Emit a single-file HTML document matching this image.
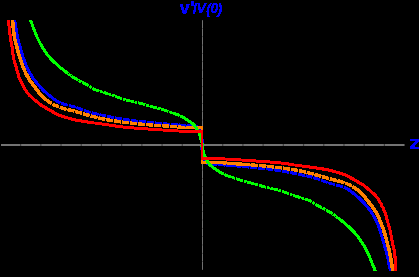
<!DOCTYPE html>
<html><head><meta charset="utf-8"><style>
html,body{margin:0;padding:0;background:#000;}
body{width:419px;height:277px;overflow:hidden;position:relative;font-family:"Liberation Sans",sans-serif;}
svg{position:absolute;left:0;top:0;}
</style></head><body>
<svg width="419" height="277" viewBox="0 0 419 277">
<defs>
<filter id="th2" filterUnits="userSpaceOnUse" x="0" y="0" width="419" height="277" color-interpolation-filters="sRGB"><feComponentTransfer><feFuncA type="discrete" tableValues="0 1 1 1 1 1 1 1 1 1 1 1 1 1 1 1 1 1 1 1 1 1 1 1 1"/></feComponentTransfer></filter>
<filter id="th" filterUnits="userSpaceOnUse" x="0" y="0" width="419" height="277" color-interpolation-filters="sRGB"><feComponentTransfer><feFuncA type="discrete" tableValues="0 1 1 1 1"/></feComponentTransfer></filter>
<clipPath id="cp"><rect x="0" y="20" width="419" height="251"/></clipPath>
</defs>
<rect width="419" height="277" fill="#000"/>
<g shape-rendering="crispEdges">
<rect x="0.6" y="144" width="404.2" height="2" fill="#737373"/>
<rect x="202" y="20" width="1" height="250.3" fill="#707070"/>
<rect x="-0.20" y="140" width="1.2" height="6" fill="#000" opacity="0.45" shape-rendering="auto"/><rect x="20.01" y="140" width="1.2" height="6" fill="#000" opacity="0.45" shape-rendering="auto"/><rect x="40.22" y="140" width="1.2" height="6" fill="#000" opacity="0.45" shape-rendering="auto"/><rect x="60.43" y="140" width="1.2" height="6" fill="#000" opacity="0.45" shape-rendering="auto"/><rect x="80.64" y="140" width="1.2" height="6" fill="#000" opacity="0.45" shape-rendering="auto"/><rect x="100.85" y="140" width="1.2" height="6" fill="#000" opacity="0.45" shape-rendering="auto"/><rect x="121.06" y="140" width="1.2" height="6" fill="#000" opacity="0.45" shape-rendering="auto"/><rect x="141.27" y="140" width="1.2" height="6" fill="#000" opacity="0.45" shape-rendering="auto"/><rect x="161.48" y="140" width="1.2" height="6" fill="#000" opacity="0.45" shape-rendering="auto"/><rect x="181.69" y="140" width="1.2" height="6" fill="#000" opacity="0.45" shape-rendering="auto"/><rect x="222.11" y="140" width="1.2" height="6" fill="#000" opacity="0.45" shape-rendering="auto"/><rect x="242.32" y="140" width="1.2" height="6" fill="#000" opacity="0.45" shape-rendering="auto"/><rect x="262.53" y="140" width="1.2" height="6" fill="#000" opacity="0.45" shape-rendering="auto"/><rect x="282.74" y="140" width="1.2" height="6" fill="#000" opacity="0.45" shape-rendering="auto"/><rect x="302.95" y="140" width="1.2" height="6" fill="#000" opacity="0.45" shape-rendering="auto"/><rect x="323.16" y="140" width="1.2" height="6" fill="#000" opacity="0.45" shape-rendering="auto"/><rect x="343.37" y="140" width="1.2" height="6" fill="#000" opacity="0.45" shape-rendering="auto"/><rect x="363.58" y="140" width="1.2" height="6" fill="#000" opacity="0.45" shape-rendering="auto"/><rect x="383.79" y="140" width="1.2" height="6" fill="#000" opacity="0.45" shape-rendering="auto"/><rect x="404.00" y="140" width="1.2" height="6" fill="#000" opacity="0.45" shape-rendering="auto"/>
<rect x="202" y="19.70" width="6" height="0.7" fill="#000" opacity="0.45" shape-rendering="auto"/><rect x="202" y="28.03" width="6" height="0.7" fill="#000" opacity="0.45" shape-rendering="auto"/><rect x="202" y="36.36" width="6" height="0.7" fill="#000" opacity="0.45" shape-rendering="auto"/><rect x="202" y="44.69" width="6" height="0.7" fill="#000" opacity="0.45" shape-rendering="auto"/><rect x="202" y="53.02" width="6" height="0.7" fill="#000" opacity="0.45" shape-rendering="auto"/><rect x="202" y="61.35" width="6" height="0.7" fill="#000" opacity="0.45" shape-rendering="auto"/><rect x="202" y="69.68" width="6" height="0.7" fill="#000" opacity="0.45" shape-rendering="auto"/><rect x="202" y="78.01" width="6" height="0.7" fill="#000" opacity="0.45" shape-rendering="auto"/><rect x="202" y="86.34" width="6" height="0.7" fill="#000" opacity="0.45" shape-rendering="auto"/><rect x="202" y="94.67" width="6" height="0.7" fill="#000" opacity="0.45" shape-rendering="auto"/><rect x="202" y="103.00" width="6" height="0.7" fill="#000" opacity="0.45" shape-rendering="auto"/><rect x="202" y="111.33" width="6" height="0.7" fill="#000" opacity="0.45" shape-rendering="auto"/><rect x="202" y="119.66" width="6" height="0.7" fill="#000" opacity="0.45" shape-rendering="auto"/><rect x="202" y="127.99" width="6" height="0.7" fill="#000" opacity="0.45" shape-rendering="auto"/><rect x="202" y="136.32" width="6" height="0.7" fill="#000" opacity="0.45" shape-rendering="auto"/><rect x="202" y="152.98" width="6" height="0.7" fill="#000" opacity="0.45" shape-rendering="auto"/><rect x="202" y="161.31" width="6" height="0.7" fill="#000" opacity="0.45" shape-rendering="auto"/><rect x="202" y="169.64" width="6" height="0.7" fill="#000" opacity="0.45" shape-rendering="auto"/><rect x="202" y="177.97" width="6" height="0.7" fill="#000" opacity="0.45" shape-rendering="auto"/><rect x="202" y="186.30" width="6" height="0.7" fill="#000" opacity="0.45" shape-rendering="auto"/><rect x="202" y="194.63" width="6" height="0.7" fill="#000" opacity="0.45" shape-rendering="auto"/><rect x="202" y="202.96" width="6" height="0.7" fill="#000" opacity="0.45" shape-rendering="auto"/><rect x="202" y="211.29" width="6" height="0.7" fill="#000" opacity="0.45" shape-rendering="auto"/><rect x="202" y="219.62" width="6" height="0.7" fill="#000" opacity="0.45" shape-rendering="auto"/><rect x="202" y="227.95" width="6" height="0.7" fill="#000" opacity="0.45" shape-rendering="auto"/><rect x="202" y="236.28" width="6" height="0.7" fill="#000" opacity="0.45" shape-rendering="auto"/><rect x="202" y="244.61" width="6" height="0.7" fill="#000" opacity="0.45" shape-rendering="auto"/><rect x="202" y="252.94" width="6" height="0.7" fill="#000" opacity="0.45" shape-rendering="auto"/><rect x="202" y="261.27" width="6" height="0.7" fill="#000" opacity="0.45" shape-rendering="auto"/><rect x="202" y="269.60" width="6" height="0.7" fill="#000" opacity="0.45" shape-rendering="auto"/>
</g>
<g fill="none" stroke-linejoin="round" clip-path="url(#cp)">
<g stroke="#0000ff" stroke-width="2.1" filter="url(#th2)"><path d="M14.2,18.0 L14.4,18.9 L14.5,19.7 L14.7,20.6 L14.8,21.4 L15.0,22.3 L15.1,23.1 L15.3,24.0 L15.4,24.8 L15.6,25.7 L15.7,26.6 L15.8,27.4 L16.0,28.3 L16.1,29.1 L16.3,30.0 L16.4,30.9 L16.6,31.7 L16.7,32.6 L16.9,33.4 L17.0,34.3 L17.2,35.1 L17.4,36.0 L17.5,36.8 L17.7,37.7 L17.9,38.5 L18.1,39.4 L18.3,40.2 L18.5,41.0 L18.8,41.9 L19.0,42.7 L19.2,43.5 L19.5,44.4 L19.7,45.2 L19.9,46.1 L20.2,46.9 L20.4,47.7 L20.7,48.6 L20.9,49.4 L21.1,50.2 L21.3,51.1 L21.6,51.9 L21.8,52.7 L22.1,53.6 L22.3,54.4 L22.5,55.3 L22.8,56.1 L23.0,56.9 L23.3,57.7 L23.6,58.6 L23.9,59.4 L24.2,60.2 L24.4,61.0 L24.7,61.8 L25.1,62.7 L25.4,63.5 L25.7,64.3 L26.0,65.1 L26.4,65.9 L26.7,66.7 L27.1,67.5 L27.4,68.2 L27.8,69.0 L28.2,69.8 L28.6,70.6 L29.0,71.3 L29.4,72.1 L29.8,72.9 L30.3,73.6 L30.7,74.4 L31.2,75.1 L31.6,75.9 L32.1,76.6 L32.5,77.3 L33.0,78.0 L33.5,78.8 L34.0,79.5 L34.5,80.2 L35.0,80.9 L35.6,81.5 L36.1,82.2 L36.7,82.9 L37.2,83.6 L37.8,84.2 L38.4,84.9 L38.9,85.5 L39.5,86.2 L40.1,86.8 L40.7,87.5 L41.3,88.1 L41.9,88.7 L42.5,89.3 L43.1,90.0 L43.8,90.6 L44.4,91.2 L45.0,91.8 L45.7,92.3 L46.3,92.9 L47.0,93.5 L47.6,94.0 L48.3,94.6 L49.0,95.1 L49.6,95.7 L50.3,96.3 L51.0,96.8 L51.7,97.4 L52.4,97.9 L53.1,98.5 L53.8,99.0 L54.5,99.5 M196.8,126.8 L197.6,127.2 L198.3,127.7 L199.0,128.2 L199.6,128.9 L200.0,129.6 L200.3,130.4 L200.6,131.2 L200.8,132.0 L201.0,132.9 L201.2,133.8 L201.4,134.6 L201.5,135.5 L201.7,136.4 L201.8,137.2 L201.9,138.1 L202.0,138.9 L202.1,139.8 L202.2,140.6 L202.3,141.5 L202.4,142.4 L202.4,143.3 L202.5,144.1 L202.5,145.0 M390.6,272.0 L390.4,271.1 L390.3,270.3 L390.1,269.4 L389.9,268.6 L389.7,267.7 L389.5,266.9 L389.4,266.0 L389.2,265.2 L389.0,264.3 L388.8,263.4 L388.7,262.6 L388.5,261.7 L388.3,260.9 L388.1,260.0 L388.0,259.1 L387.8,258.3 L387.6,257.4 L387.4,256.6 L387.2,255.7 L387.0,254.9 L386.8,254.0 L386.6,253.2 L386.4,252.3 L386.2,251.5 L386.0,250.6 L385.7,249.8 L385.5,249.0 L385.3,248.1 L385.0,247.3 L384.8,246.5 L384.5,245.6 L384.3,244.8 L384.0,243.9 L383.8,243.1 L383.5,242.3 L383.3,241.4 L383.0,240.6 L382.8,239.8 L382.6,238.9 L382.3,238.1 L382.1,237.3 L381.8,236.4 L381.6,235.6 L381.3,234.7 L381.0,233.9 L380.8,233.1 L380.5,232.3 L380.2,231.4 L380.0,230.6 L379.7,229.8 L379.5,229.0 L379.2,228.2 L378.9,227.3 L378.7,226.5 L378.4,225.7 L378.1,224.9 L377.7,224.1 L377.4,223.3 L377.0,222.5 L376.7,221.8 L376.3,221.0 L375.9,220.2 L375.5,219.4 L375.1,218.7 L374.7,217.9 L374.3,217.1 L373.8,216.4 L373.4,215.6 L372.9,214.9 L372.5,214.1 L372.0,213.4 L371.6,212.7 L371.1,212.0 L370.6,211.2 L370.1,210.5 L369.6,209.8 L369.1,209.1 L368.5,208.5 L368.0,207.8 L367.4,207.1 L366.9,206.4 L366.3,205.8 L365.7,205.1 L365.2,204.5 L364.6,203.8 L364.0,203.2 L363.4,202.5 L362.8,201.9 L362.2,201.3 L361.6,200.7 L361.0,200.0 L360.3,199.4 L359.7,198.8 L359.1,198.2 L358.4,197.7 L357.8,197.1 L357.1,196.5 L356.5,196.0 L355.8,195.4 L355.1,194.9 L354.5,194.3 L353.8,193.7 L353.1,193.2 L352.4,192.6 L351.7,192.1 L351.0,191.5 L350.3,191.0 L349.6,190.5 M207.3,163.2 L206.5,162.8 L205.8,162.3 L205.1,161.8 L204.5,161.1 L204.1,160.4 L203.8,159.6 L203.5,158.8 L203.3,158.0 L203.1,157.1 L202.9,156.2 L202.7,155.4 L202.6,154.5 L202.4,153.6 L202.3,152.8 L202.2,151.9 L202.1,151.1 L202.0,150.2 L201.9,149.4 L201.8,148.5 L201.7,147.6 L201.7,146.7 L201.6,145.9 L201.6,145.0"/><path d="M54.5,99.5 L55.2,100.0 L56.0,100.5 L56.7,101.0 L57.4,101.4 L58.2,101.8 L58.9,102.2 L59.7,102.6 L60.5,102.9 L61.3,103.2 L62.0,103.5 L62.9,103.7 L63.7,104.0 L64.5,104.2 L65.3,104.5 L66.2,104.7 L67.0,104.9 L67.9,105.1 L68.7,105.3 L69.6,105.5 L70.5,105.8 L71.3,106.0 L72.2,106.2 L73.0,106.4 L73.9,106.7 L74.7,106.9 L75.5,107.2 L76.3,107.4 L77.2,107.7 L78.0,108.0 L78.8,108.3 L79.6,108.6 L80.4,108.9 L81.3,109.2 L82.1,109.5 L82.9,109.8 L83.7,110.1 L84.5,110.4 L85.3,110.7 L86.2,111.0 L87.0,111.3 L87.8,111.5 L88.6,111.8 L89.5,112.0 L90.3,112.3 L91.1,112.5 L92.0,112.7 L92.8,112.9 L93.6,113.2 L94.5,113.4 L95.3,113.6 L96.2,113.8 L97.0,114.0 L97.9,114.2 L98.7,114.4 L99.6,114.5 L100.4,114.7 L101.3,114.9 L102.1,115.1 L103.0,115.3 L103.8,115.5 L104.7,115.6 L105.5,115.8 L106.4,116.0 L107.2,116.2 L108.1,116.4 L108.9,116.5 L109.8,116.7 L110.6,116.9 L111.5,117.1 L112.3,117.2 L113.2,117.4 L114.0,117.6 L114.9,117.8 L115.7,117.9 L116.6,118.1 L117.4,118.2 L118.3,118.4 L119.1,118.5 L120.0,118.7 L120.8,118.8 L121.7,119.0 L122.6,119.1 L123.4,119.3 L124.3,119.4 L125.1,119.5 L126.0,119.6 L126.8,119.8 L127.7,119.9 L128.6,120.0 L129.4,120.1 L130.3,120.2 L131.1,120.3 L132.0,120.4 L132.9,120.5 L133.7,120.7 L134.6,120.8 L135.5,120.9 L136.3,121.0 L137.2,121.1 L138.0,121.2 L138.9,121.3 L139.8,121.4 L140.6,121.4 L141.5,121.5 L142.4,121.6 L143.2,121.7 L144.1,121.8 L145.0,121.9 L145.8,122.0 L146.7,122.1 L147.5,122.2 L148.4,122.3 L149.3,122.3 L150.1,122.4 L151.0,122.5 L151.9,122.6 L152.7,122.7 L153.6,122.8 L154.5,122.8 L155.3,122.9 L156.2,123.0 L157.1,123.1 L157.9,123.2 L158.8,123.3 L159.6,123.3 L160.5,123.4 L161.4,123.5 L162.2,123.6 L163.1,123.6 L164.0,123.7 L164.8,123.8 L165.7,123.8 L166.6,123.9 L167.4,124.0 L168.3,124.1 L169.2,124.1 L170.0,124.2 L170.9,124.3 L171.8,124.3 L172.6,124.4 L173.5,124.5 L174.4,124.5 L175.2,124.6 L176.1,124.7 L177.0,124.7 L177.8,124.8 L178.7,124.9 L179.6,124.9 L180.4,125.0 L181.3,125.1 L182.1,125.1 L183.0,125.2 L183.9,125.3 L184.7,125.3 L185.6,125.4 L186.5,125.5 L187.3,125.6 L188.2,125.6 L189.1,125.7 L189.9,125.8 L190.8,125.9 L191.7,125.9 L192.6,126.0 L193.4,126.1 L194.3,126.2 L195.1,126.3 L196.0,126.5 L196.8,126.8 M349.6,190.5 L348.9,190.0 L348.1,189.5 L347.4,189.0 L346.7,188.6 L345.9,188.2 L345.2,187.8 L344.4,187.4 L343.6,187.1 L342.8,186.8 L342.1,186.5 L341.2,186.3 L340.4,186.0 L339.6,185.8 L338.8,185.5 L337.9,185.3 L337.1,185.1 L336.2,184.9 L335.4,184.7 L334.5,184.5 L333.6,184.2 L332.8,184.0 L331.9,183.8 L331.1,183.6 L330.2,183.3 L329.4,183.1 L328.6,182.8 L327.8,182.6 L326.9,182.3 L326.1,182.0 L325.3,181.7 L324.5,181.4 L323.7,181.1 L322.8,180.8 L322.0,180.5 L321.2,180.2 L320.4,179.9 L319.6,179.6 L318.8,179.3 L317.9,179.0 L317.1,178.7 L316.3,178.5 L315.5,178.2 L314.6,178.0 L313.8,177.7 L313.0,177.5 L312.1,177.3 L311.3,177.1 L310.5,176.8 L309.6,176.6 L308.8,176.4 L307.9,176.2 L307.1,176.0 L306.2,175.8 L305.4,175.6 L304.5,175.5 L303.7,175.3 L302.8,175.1 L302.0,174.9 L301.1,174.7 L300.3,174.5 L299.4,174.4 L298.6,174.2 L297.7,174.0 L296.9,173.8 L296.0,173.6 L295.2,173.5 L294.3,173.3 L293.5,173.1 L292.6,172.9 L291.8,172.8 L290.9,172.6 L290.1,172.4 L289.2,172.2 L288.4,172.1 L287.5,171.9 L286.7,171.8 L285.8,171.6 L285.0,171.5 L284.1,171.3 L283.3,171.2 L282.4,171.0 L281.5,170.9 L280.7,170.7 L279.8,170.6 L279.0,170.5 L278.1,170.4 L277.3,170.2 L276.4,170.1 L275.5,170.0 L274.7,169.9 L273.8,169.8 L273.0,169.7 L272.1,169.6 L271.2,169.5 L270.4,169.3 L269.5,169.2 L268.6,169.1 L267.8,169.0 L266.9,168.9 L266.1,168.8 L265.2,168.7 L264.3,168.6 L263.5,168.6 L262.6,168.5 L261.7,168.4 L260.9,168.3 L260.0,168.2 L259.1,168.1 L258.3,168.0 L257.4,167.9 L256.6,167.8 L255.7,167.7 L254.8,167.7 L254.0,167.6 L253.1,167.5 L252.2,167.4 L251.4,167.3 L250.5,167.2 L249.6,167.2 L248.8,167.1 L247.9,167.0 L247.0,166.9 L246.2,166.8 L245.3,166.7 L244.5,166.7 L243.6,166.6 L242.7,166.5 L241.9,166.4 L241.0,166.4 L240.1,166.3 L239.3,166.2 L238.4,166.2 L237.5,166.1 L236.7,166.0 L235.8,165.9 L234.9,165.9 L234.1,165.8 L233.2,165.7 L232.3,165.7 L231.5,165.6 L230.6,165.5 L229.7,165.5 L228.9,165.4 L228.0,165.3 L227.1,165.3 L226.3,165.2 L225.4,165.1 L224.5,165.1 L223.7,165.0 L222.8,164.9 L222.0,164.9 L221.1,164.8 L220.2,164.7 L219.4,164.7 L218.5,164.6 L217.6,164.5 L216.8,164.4 L215.9,164.4 L215.0,164.3 L214.2,164.2 L213.3,164.1 L212.4,164.1 L211.5,164.0 L210.7,163.9 L209.8,163.8 L209.0,163.7 L208.1,163.5 L207.3,163.2" stroke-dasharray="6.3 1.7"/></g>
<g stroke="#ff8000" stroke-width="2.6" filter="url(#th2)"><path d="M12.2,18.0 L12.3,18.8 L12.4,19.7 L12.5,20.5 L12.6,21.3 L12.7,22.2 L12.8,23.0 L12.8,23.9 L12.9,24.7 L13.0,25.5 L13.1,26.4 L13.2,27.2 L13.3,28.0 L13.4,28.9 L13.5,29.7 L13.6,30.6 L13.7,31.4 L13.8,32.2 L13.9,33.1 L14.0,33.9 L14.1,34.7 L14.2,35.6 L14.3,36.4 L14.5,37.2 L14.6,38.0 L14.8,38.9 L14.9,39.7 L15.1,40.5 L15.3,41.3 L15.5,42.1 L15.7,43.0 L15.9,43.8 L16.2,44.6 L16.4,45.4 L16.6,46.2 L16.8,47.0 L17.1,47.8 L17.3,48.7 L17.5,49.5 L17.7,50.3 L17.9,51.1 L18.1,51.9 L18.4,52.7 L18.6,53.5 L18.8,54.3 L19.0,55.2 L19.3,56.0 L19.5,56.8 L19.8,57.6 L20.0,58.4 L20.3,59.2 L20.5,60.0 L20.8,60.8 L21.1,61.6 L21.4,62.4 L21.6,63.2 L21.9,64.0 L22.2,64.7 L22.5,65.5 L22.8,66.3 L23.1,67.1 L23.4,67.9 L23.8,68.7 L24.1,69.4 L24.4,70.2 L24.8,71.0 L25.1,71.7 L25.5,72.5 L25.8,73.3 L26.2,74.0 L26.6,74.8 L27.0,75.5 L27.3,76.3 L27.7,77.0 L28.2,77.8 L28.6,78.5 L29.0,79.2 L29.5,79.9 L29.9,80.6 L30.4,81.3 L30.9,82.0 L31.4,82.6 L31.9,83.3 L32.4,84.0 L32.9,84.7 L33.4,85.3 L34.0,86.0 L34.5,86.7 L35.0,87.3 L35.5,88.0 L36.0,88.7 L36.5,89.4 L37.0,90.0 L37.5,90.7 L38.1,91.4 L38.6,92.1 L39.1,92.8 L39.6,93.5 L40.1,94.1 L40.7,94.8 L41.2,95.4 L41.8,96.1 L42.4,96.7 L42.9,97.2 L43.5,97.8 L44.2,98.3 L44.8,98.8 L45.4,99.3 L46.1,99.8 M393.0,272.0 L392.8,271.2 L392.7,270.3 L392.6,269.5 L392.5,268.7 L392.3,267.8 L392.2,267.0 L392.0,266.1 L391.9,265.3 L391.8,264.5 L391.6,263.6 L391.5,262.8 L391.4,262.0 L391.2,261.1 L391.1,260.3 L390.9,259.4 L390.8,258.6 L390.6,257.8 L390.5,256.9 L390.3,256.1 L390.2,255.3 L390.0,254.4 L389.8,253.6 L389.7,252.8 L389.5,252.0 L389.3,251.1 L389.2,250.3 L389.0,249.5 L388.8,248.7 L388.6,247.9 L388.4,247.0 L388.2,246.2 L387.9,245.4 L387.7,244.6 L387.5,243.8 L387.3,243.0 L387.0,242.2 L386.8,241.3 L386.6,240.5 L386.4,239.7 L386.2,238.9 L386.0,238.1 L385.7,237.3 L385.5,236.5 L385.3,235.7 L385.1,234.8 L384.8,234.0 L384.6,233.2 L384.3,232.4 L384.1,231.6 L383.8,230.8 L383.6,230.0 L383.3,229.2 L383.0,228.4 L382.7,227.6 L382.5,226.8 L382.2,226.0 L381.9,225.3 L381.6,224.5 L381.3,223.7 L381.0,222.9 L380.7,222.1 L380.3,221.3 L380.0,220.6 L379.7,219.8 L379.3,219.0 L379.0,218.3 L378.6,217.5 L378.3,216.7 L377.9,216.0 L377.5,215.2 L377.1,214.5 L376.8,213.7 L376.4,213.0 L375.9,212.2 L375.5,211.5 L375.1,210.8 L374.6,210.1 L374.2,209.4 L373.7,208.7 L373.2,208.0 L372.7,207.4 L372.2,206.7 L371.7,206.0 L371.2,205.3 L370.7,204.7 L370.1,204.0 L369.6,203.3 L369.1,202.7 L368.6,202.0 L368.1,201.3 L367.6,200.6 L367.1,200.0 L366.6,199.3 L366.0,198.6 L365.5,197.9 L365.0,197.2 L364.5,196.5 L364.0,195.9 L363.4,195.2 L362.9,194.6 L362.3,193.9 L361.7,193.3 L361.2,192.8 L360.6,192.2 L359.9,191.7 L359.3,191.2 L358.7,190.7 L358.0,190.2"/><path d="M46.1,99.8 L46.8,100.3 L47.5,100.8 L48.2,101.3 L48.9,101.8 L49.6,102.2 L50.3,102.7 L51.0,103.1 L51.8,103.6 L52.5,104.0 L53.3,104.4 L54.1,104.8 L54.8,105.2 L55.6,105.6 L56.4,105.9 L57.2,106.3 L57.9,106.6 L58.7,106.9 L59.5,107.2 L60.2,107.5 L61.0,107.8 L61.8,108.0 L62.6,108.2 L63.4,108.5 L64.2,108.7 L65.0,108.9 L65.8,109.1 L66.7,109.3 L67.5,109.5 L68.3,109.7 L69.2,109.9 L70.0,110.1 L70.8,110.3 L71.6,110.5 L72.5,110.6 L73.3,110.9 L74.1,111.1 L74.9,111.3 L75.7,111.5 L76.5,111.7 L77.3,112.0 L78.2,112.2 L79.0,112.4 L79.8,112.7 L80.6,112.9 L81.4,113.2 L82.2,113.4 L83.0,113.7 L83.8,113.9 L84.6,114.2 L85.4,114.4 L86.2,114.6 L87.0,114.9 L87.8,115.1 L88.6,115.3 L89.5,115.6 L90.3,115.8 L91.1,116.0 L91.9,116.2 L92.7,116.4 L93.5,116.6 L94.3,116.8 L95.2,117.1 L96.0,117.3 L96.8,117.5 L97.6,117.7 L98.4,117.9 L99.2,118.1 L100.1,118.3 L100.9,118.4 L101.7,118.6 L102.5,118.8 L103.3,119.0 L104.2,119.1 L105.0,119.3 L105.8,119.4 L106.6,119.6 L107.5,119.8 L108.3,119.9 L109.1,120.0 L110.0,120.2 L110.8,120.3 L111.6,120.5 L112.5,120.6 L113.3,120.7 L114.1,120.9 L114.9,121.0 L115.8,121.1 L116.6,121.3 L117.4,121.4 L118.3,121.5 L119.1,121.6 L119.9,121.7 L120.8,121.9 L121.6,122.0 L122.5,122.1 L123.3,122.2 L124.1,122.3 L125.0,122.4 L125.8,122.5 L126.6,122.6 L127.5,122.7 L128.3,122.8 L129.1,122.9 L130.0,123.0 L130.8,123.1 L131.6,123.2 L132.5,123.3 L133.3,123.3 L134.1,123.4 L135.0,123.5 L135.8,123.6 L136.7,123.7 L137.5,123.8 L138.3,123.9 L139.2,123.9 L140.0,124.0 L140.9,124.1 L141.7,124.2 L142.5,124.3 L143.4,124.3 L144.2,124.4 L145.0,124.5 L145.9,124.6 L146.7,124.6 L147.6,124.7 L148.4,124.8 L149.2,124.8 L150.1,124.9 L150.9,125.0 L151.8,125.0 L152.6,125.1 L153.4,125.2 L154.3,125.2 L155.1,125.3 L155.9,125.4 L156.8,125.4 L157.6,125.5 L158.5,125.5 L159.3,125.6 L160.1,125.7 L161.0,125.7 L161.8,125.8 L162.7,125.8 L163.5,125.9 L164.3,125.9 L165.2,126.0 L166.0,126.0 L166.9,126.1 L167.7,126.1 L168.5,126.2 L169.4,126.3 L170.2,126.3 L171.1,126.4 L171.9,126.4 L172.7,126.5 L173.6,126.6 L174.4,126.7 L175.3,126.7 L176.1,126.8 L176.9,126.9 L177.8,126.9 L178.6,127.0 L179.5,127.1 L180.3,127.1 L181.1,127.2 L182.0,127.2 L182.8,127.3 L183.7,127.3 L184.5,127.4 L185.3,127.4 L186.2,127.5 L187.0,127.5 L187.9,127.5 L188.7,127.6 L189.5,127.6 L190.4,127.6 L191.2,127.6 L192.1,127.6 L192.9,127.7 L193.7,127.7 L194.6,127.7 L195.4,127.7 L196.3,127.7 L197.1,127.7 L197.9,127.8 L198.8,127.8 L199.6,127.8 L200.5,127.8 L201.3,127.8 L202.2,127.8 L203.0,127.8 M358.0,190.2 L357.3,189.7 L356.6,189.2 L355.9,188.7 L355.2,188.2 L354.5,187.8 L353.8,187.3 L353.1,186.9 L352.3,186.4 L351.6,186.0 L350.8,185.6 L350.0,185.2 L349.3,184.8 L348.5,184.4 L347.7,184.1 L346.9,183.7 L346.2,183.4 L345.4,183.1 L344.6,182.8 L343.9,182.5 L343.1,182.2 L342.3,182.0 L341.5,181.8 L340.7,181.5 L339.9,181.3 L339.1,181.1 L338.3,180.9 L337.4,180.7 L336.6,180.5 L335.8,180.3 L334.9,180.1 L334.1,179.9 L333.3,179.7 L332.5,179.5 L331.6,179.4 L330.8,179.1 L330.0,178.9 L329.2,178.7 L328.4,178.5 L327.6,178.3 L326.8,178.0 L325.9,177.8 L325.1,177.6 L324.3,177.3 L323.5,177.1 L322.7,176.8 L321.9,176.6 L321.1,176.3 L320.3,176.1 L319.5,175.8 L318.7,175.6 L317.9,175.4 L317.1,175.1 L316.3,174.9 L315.5,174.7 L314.6,174.4 L313.8,174.2 L313.0,174.0 L312.2,173.8 L311.4,173.6 L310.6,173.4 L309.8,173.2 L308.9,172.9 L308.1,172.7 L307.3,172.5 L306.5,172.3 L305.7,172.1 L304.9,171.9 L304.0,171.7 L303.2,171.6 L302.4,171.4 L301.6,171.2 L300.8,171.0 L299.9,170.9 L299.1,170.7 L298.3,170.6 L297.5,170.4 L296.6,170.2 L295.8,170.1 L295.0,170.0 L294.1,169.8 L293.3,169.7 L292.5,169.5 L291.6,169.4 L290.8,169.3 L290.0,169.1 L289.2,169.0 L288.3,168.9 L287.5,168.7 L286.7,168.6 L285.8,168.5 L285.0,168.4 L284.2,168.3 L283.3,168.1 L282.5,168.0 L281.6,167.9 L280.8,167.8 L280.0,167.7 L279.1,167.6 L278.3,167.5 L277.5,167.4 L276.6,167.3 L275.8,167.2 L275.0,167.1 L274.1,167.0 L273.3,166.9 L272.5,166.8 L271.6,166.7 L270.8,166.7 L270.0,166.6 L269.1,166.5 L268.3,166.4 L267.4,166.3 L266.6,166.2 L265.8,166.1 L264.9,166.1 L264.1,166.0 L263.2,165.9 L262.4,165.8 L261.6,165.7 L260.7,165.7 L259.9,165.6 L259.1,165.5 L258.2,165.4 L257.4,165.4 L256.5,165.3 L255.7,165.2 L254.9,165.2 L254.0,165.1 L253.2,165.0 L252.3,165.0 L251.5,164.9 L250.7,164.8 L249.8,164.8 L249.0,164.7 L248.2,164.6 L247.3,164.6 L246.5,164.5 L245.6,164.5 L244.8,164.4 L244.0,164.3 L243.1,164.3 L242.3,164.2 L241.4,164.2 L240.6,164.1 L239.8,164.1 L238.9,164.0 L238.1,164.0 L237.2,163.9 L236.4,163.9 L235.6,163.8 L234.7,163.7 L233.9,163.7 L233.0,163.6 L232.2,163.6 L231.4,163.5 L230.5,163.4 L229.7,163.3 L228.8,163.3 L228.0,163.2 L227.2,163.1 L226.3,163.1 L225.5,163.0 L224.6,162.9 L223.8,162.9 L223.0,162.8 L222.1,162.8 L221.3,162.7 L220.4,162.7 L219.6,162.6 L218.8,162.6 L217.9,162.5 L217.1,162.5 L216.2,162.5 L215.4,162.4 L214.6,162.4 L213.7,162.4 L212.9,162.4 L212.0,162.4 L211.2,162.3 L210.4,162.3 L209.5,162.3 L208.7,162.3 L207.8,162.3 L207.0,162.3 L206.2,162.2 L205.3,162.2 L204.5,162.2 L203.6,162.2 L202.8,162.2 L201.9,162.2 L201.1,162.2" stroke-dasharray="6.4 1.6"/></g>
<rect x="201" y="126.2" width="2" height="37.6" fill="#ff8000" shape-rendering="crispEdges"/>
<g stroke="#00ff00" stroke-width="2.1" filter="url(#th2)"><path d="M29.6,18.0 L29.9,18.7 L30.2,19.4 L30.4,20.1 L30.7,20.8 L31.0,21.5 L31.3,22.3 L31.6,23.0 L31.8,23.7 L32.1,24.4 L32.4,25.1 L32.6,25.8 L32.9,26.6 L33.2,27.3 L33.4,28.0 L33.7,28.7 L34.0,29.4 L34.2,30.1 L34.5,30.8 L34.8,31.6 L35.1,32.3 L35.3,33.0 L35.6,33.7 L35.9,34.4 L36.2,35.1 L36.5,35.8 L36.8,36.5 L37.1,37.2 L37.4,37.9 L37.8,38.6 L38.1,39.2 L38.4,39.9 L38.8,40.6 L39.1,41.3 L39.5,42.0 L39.8,42.7 L40.2,43.3 L40.5,44.0 L40.9,44.7 L41.3,45.3 L41.7,46.0 L42.1,46.6 L42.5,47.3 L42.9,47.9 L43.3,48.6 L43.7,49.2 L44.1,49.9 L44.5,50.5 L44.9,51.1 L45.4,51.8 L45.8,52.4 L46.3,53.0 L46.7,53.6 L47.2,54.3 L47.6,54.9 L48.1,55.5 L48.6,56.1 L49.1,56.6 L49.6,57.2 L50.1,57.8 L50.6,58.4 L51.1,58.9 L51.6,59.5 L52.1,60.0 L52.7,60.6 L53.2,61.1 L53.8,61.6 L54.3,62.2 L54.9,62.7 L55.4,63.2 L56.0,63.7 L56.6,64.2 L57.2,64.7 L57.7,65.2 L58.3,65.7 L58.9,66.2 L59.5,66.7 L60.0,67.2 L60.6,67.7 L61.2,68.2 L61.8,68.7 L62.4,69.2 M183.3,117.4 L184.0,117.8 L184.6,118.2 L185.3,118.6 L185.9,119.0 L186.5,119.4 L187.2,119.8 L187.8,120.3 L188.4,120.7 L189.0,121.2 L189.6,121.6 L190.3,122.1 L190.9,122.5 L191.5,123.0 L192.1,123.4 L192.8,123.9 L193.3,124.4 L193.9,124.9 L194.4,125.4 L194.9,126.0 L195.3,126.6 L195.8,127.3 L196.2,127.9 L196.6,128.6 L197.0,129.2 L197.4,129.9 L197.8,130.5 L198.2,131.2 L198.5,131.9 L198.8,132.6 L199.1,133.3 L199.4,134.0 L199.6,134.7 L199.8,135.4 L200.1,136.2 L200.3,136.9 L200.5,137.6 L200.7,138.4 L200.9,139.1 L201.1,139.8 L201.3,140.6 L201.5,141.3 L201.7,142.1 L201.9,142.8 L202.1,143.5 L202.3,144.3 L202.5,145.0 M375.7,272.0 L375.4,271.3 L375.1,270.6 L374.8,269.9 L374.5,269.2 L374.3,268.5 L374.0,267.7 L373.7,267.0 L373.4,266.3 L373.1,265.6 L372.8,264.9 L372.5,264.2 L372.2,263.4 L371.9,262.7 L371.7,262.0 L371.4,261.3 L371.1,260.6 L370.8,259.9 L370.5,259.2 L370.2,258.4 L369.9,257.7 L369.6,257.0 L369.3,256.3 L369.0,255.6 L368.7,254.9 L368.3,254.2 L368.0,253.5 L367.7,252.8 L367.4,252.1 L367.0,251.4 L366.7,250.8 L366.3,250.1 L366.0,249.4 L365.6,248.7 L365.2,248.0 L364.8,247.3 L364.5,246.7 L364.1,246.0 L363.7,245.3 L363.3,244.7 L362.9,244.0 L362.5,243.4 L362.1,242.7 L361.6,242.1 L361.2,241.4 L360.8,240.8 L360.4,240.1 L359.9,239.5 L359.5,238.9 L359.0,238.2 L358.6,237.6 L358.1,237.0 L357.6,236.4 L357.1,235.7 L356.7,235.1 L356.2,234.5 L355.7,233.9 L355.2,233.4 L354.7,232.8 L354.2,232.2 L353.6,231.6 L353.1,231.1 L352.6,230.5 L352.0,230.0 L351.5,229.4 L350.9,228.9 L350.3,228.4 L349.8,227.8 L349.2,227.3 L348.7,226.8 L348.1,226.3 L347.5,225.8 L346.9,225.3 L346.4,224.8 L345.8,224.3 L345.2,223.8 L344.6,223.3 L344.1,222.8 L343.5,222.3 L342.9,221.8 L342.3,221.3 L341.7,220.8 M220.8,172.6 L220.1,172.2 L219.5,171.8 L218.8,171.4 L218.2,171.0 L217.6,170.6 L216.9,170.2 L216.3,169.7 L215.7,169.3 L215.1,168.8 L214.5,168.4 L213.8,167.9 L213.2,167.5 L212.6,167.0 L212.0,166.6 L211.3,166.1 L210.8,165.6 L210.2,165.1 L209.7,164.6 L209.2,164.0 L208.8,163.4 L208.3,162.7 L207.9,162.1 L207.5,161.4 L207.1,160.8 L206.7,160.1 L206.3,159.5 L205.9,158.8 L205.6,158.1 L205.3,157.4 L205.0,156.7 L204.7,156.0 L204.5,155.3 L204.3,154.6 L204.0,153.8 L203.8,153.1 L203.6,152.4 L203.4,151.6 L203.2,150.9 L203.0,150.2 L202.8,149.4 L202.6,148.7 L202.4,147.9 L202.2,147.2 L202.0,146.5 L201.8,145.7 L201.6,145.0"/><path d="M62.4,69.2 L63.0,69.7 L63.6,70.2 L64.2,70.6 L64.8,71.1 L65.4,71.6 L66.0,72.1 L66.6,72.5 L67.2,73.0 L67.8,73.4 L68.4,73.9 L69.0,74.3 L69.6,74.8 L70.3,75.2 L70.9,75.7 L71.5,76.1 L72.2,76.5 L72.8,76.9 L73.4,77.3 L74.1,77.7 L74.7,78.1 L75.4,78.5 L76.1,78.9 L76.7,79.3 L77.4,79.7 L78.0,80.0 L78.7,80.4 L79.4,80.8 L80.1,81.1 L80.7,81.5 L81.4,81.8 L82.1,82.2 L82.8,82.5 L83.5,82.9 L84.1,83.2 L84.8,83.6 L85.5,84.0 L86.1,84.3 L86.8,84.7 L87.4,85.1 L88.1,85.6 L88.7,86.0 L89.4,86.4 L90.0,86.8 L90.7,87.2 L91.3,87.6 L92.0,88.0 L92.7,88.3 L93.3,88.7 L94.0,89.0 L94.7,89.4 L95.4,89.7 L96.1,89.9 L96.8,90.2 L97.5,90.5 L98.2,90.7 L98.9,91.0 L99.6,91.2 L100.4,91.5 L101.1,91.7 L101.8,91.9 L102.6,92.1 L103.3,92.3 L104.0,92.6 L104.8,92.8 L105.5,93.0 L106.2,93.2 L107.0,93.4 L107.7,93.7 L108.4,93.9 L109.2,94.1 L109.9,94.4 L110.6,94.6 L111.3,94.9 L112.1,95.1 L112.8,95.4 L113.5,95.6 L114.2,95.9 L114.9,96.2 L115.6,96.4 L116.4,96.7 L117.1,96.9 L117.8,97.2 L118.5,97.5 L119.2,97.7 L120.0,98.0 L120.7,98.2 L121.4,98.5 L122.1,98.7 L122.8,99.0 L123.6,99.2 L124.3,99.4 L125.0,99.6 L125.8,99.8 L126.5,100.0 L127.2,100.2 L128.0,100.4 L128.7,100.6 L129.5,100.7 L130.2,100.9 L130.9,101.1 L131.7,101.3 L132.4,101.4 L133.2,101.6 L133.9,101.8 L134.7,101.9 L135.4,102.1 L136.2,102.3 L136.9,102.4 L137.6,102.6 L138.4,102.8 L139.1,103.0 L139.9,103.2 L140.6,103.4 L141.3,103.6 L142.1,103.8 L142.8,104.0 L143.5,104.2 L144.3,104.4 L145.0,104.6 L145.8,104.8 L146.5,105.0 L147.2,105.2 L147.9,105.4 L148.7,105.6 L149.4,105.9 L150.1,106.1 L150.9,106.3 L151.6,106.5 L152.3,106.7 L153.1,106.9 L153.8,107.2 L154.5,107.4 L155.3,107.6 L156.0,107.8 L156.7,108.0 L157.5,108.2 L158.2,108.4 L158.9,108.6 L159.7,108.8 L160.4,109.0 L161.2,109.2 L161.9,109.4 L162.6,109.6 L163.4,109.9 L164.1,110.1 L164.8,110.3 L165.6,110.5 L166.3,110.7 L167.0,110.9 L167.7,111.2 L168.5,111.4 L169.2,111.6 L169.9,111.9 L170.6,112.1 L171.4,112.4 L172.1,112.6 L172.8,112.9 L173.5,113.1 L174.2,113.4 L174.9,113.7 L175.6,114.0 L176.4,114.2 L177.1,114.5 L177.8,114.8 L178.5,115.1 L179.2,115.4 L179.9,115.7 L180.6,116.1 L181.2,116.4 L181.9,116.7 L182.6,117.1 L183.3,117.4 M341.7,220.8 L341.1,220.3 L340.5,219.8 L339.9,219.4 L339.3,218.9 L338.7,218.4 L338.1,217.9 L337.5,217.5 L336.9,217.0 L336.3,216.6 L335.7,216.1 L335.1,215.7 L334.5,215.2 L333.8,214.8 L333.2,214.3 L332.6,213.9 L331.9,213.5 L331.3,213.1 L330.7,212.7 L330.0,212.3 L329.4,211.9 L328.7,211.5 L328.0,211.1 L327.4,210.7 L326.7,210.3 L326.1,210.0 L325.4,209.6 L324.7,209.2 L324.0,208.9 L323.4,208.5 L322.7,208.2 L322.0,207.8 L321.3,207.5 L320.6,207.1 L320.0,206.8 L319.3,206.4 L318.6,206.0 L318.0,205.7 L317.3,205.3 L316.7,204.9 L316.0,204.4 L315.4,204.0 L314.7,203.6 L314.1,203.2 L313.4,202.8 L312.8,202.4 L312.1,202.0 L311.4,201.7 L310.8,201.3 L310.1,201.0 L309.4,200.6 L308.7,200.3 L308.0,200.1 L307.3,199.8 L306.6,199.5 L305.9,199.3 L305.2,199.0 L304.5,198.8 L303.7,198.5 L303.0,198.3 L302.3,198.1 L301.5,197.9 L300.8,197.7 L300.1,197.4 L299.3,197.2 L298.6,197.0 L297.9,196.8 L297.1,196.6 L296.4,196.3 L295.7,196.1 L294.9,195.9 L294.2,195.6 L293.5,195.4 L292.8,195.1 L292.0,194.9 L291.3,194.6 L290.6,194.4 L289.9,194.1 L289.2,193.8 L288.5,193.6 L287.7,193.3 L287.0,193.1 L286.3,192.8 L285.6,192.5 L284.9,192.3 L284.1,192.0 L283.4,191.8 L282.7,191.5 L282.0,191.3 L281.3,191.0 L280.5,190.8 L279.8,190.6 L279.1,190.4 L278.3,190.2 L277.6,190.0 L276.9,189.8 L276.1,189.6 L275.4,189.4 L274.6,189.3 L273.9,189.1 L273.2,188.9 L272.4,188.7 L271.7,188.6 L270.9,188.4 L270.2,188.2 L269.4,188.1 L268.7,187.9 L267.9,187.7 L267.2,187.6 L266.5,187.4 L265.7,187.2 L265.0,187.0 L264.2,186.8 L263.5,186.6 L262.8,186.4 L262.0,186.2 L261.3,186.0 L260.6,185.8 L259.8,185.6 L259.1,185.4 L258.3,185.2 L257.6,185.0 L256.9,184.8 L256.2,184.6 L255.4,184.4 L254.7,184.1 L254.0,183.9 L253.2,183.7 L252.5,183.5 L251.8,183.3 L251.0,183.1 L250.3,182.8 L249.6,182.6 L248.8,182.4 L248.1,182.2 L247.4,182.0 L246.6,181.8 L245.9,181.6 L245.2,181.4 L244.4,181.2 L243.7,181.0 L242.9,180.8 L242.2,180.6 L241.5,180.4 L240.7,180.1 L240.0,179.9 L239.3,179.7 L238.5,179.5 L237.8,179.3 L237.1,179.1 L236.4,178.8 L235.6,178.6 L234.9,178.4 L234.2,178.1 L233.5,177.9 L232.7,177.6 L232.0,177.4 L231.3,177.1 L230.6,176.9 L229.9,176.6 L229.2,176.3 L228.5,176.0 L227.7,175.8 L227.0,175.5 L226.3,175.2 L225.6,174.9 L224.9,174.6 L224.2,174.3 L223.5,173.9 L222.9,173.6 L222.2,173.3 L221.5,172.9 L220.8,172.6" stroke-dasharray="6.8 1.7 2 1.5"/></g>
<g stroke="#ff0000" stroke-width="2.15" filter="url(#th2)"><path d="M8.2,18.0 M396.0,272.0"/><path d="M8.2,18.0 L8.3,18.9 L8.4,19.7 L8.5,20.6 L8.6,21.5 L8.6,22.4 L8.7,23.2 L8.8,24.1 L8.9,25.0 L9.0,25.9 L9.1,26.7 L9.2,27.6 L9.3,28.5 L9.4,29.4 L9.4,30.2 L9.5,31.1 L9.6,32.0 L9.7,32.8 L9.8,33.7 L10.0,34.6 L10.1,35.5 L10.2,36.3 L10.3,37.2 L10.4,38.1 L10.5,38.9 L10.7,39.8 L10.8,40.7 L11.0,41.5 L11.2,42.4 L11.3,43.2 L11.5,44.1 L11.7,45.0 L11.8,45.8 L12.0,46.7 L12.1,47.6 L12.3,48.4 L12.4,49.3 L12.5,50.2 L12.6,51.0 L12.7,51.9 L12.8,52.8 L12.9,53.7 L13.0,54.5 L13.1,55.4 L13.2,56.3 L13.4,57.1 L13.5,58.0 L13.7,58.9 L13.9,59.7 L14.1,60.6 L14.3,61.4 L14.6,62.2 L14.8,63.1 L15.1,63.9 L15.4,64.8 L15.7,65.6 L15.9,66.4 L16.2,67.3 L16.4,68.1 L16.7,69.0 L16.9,69.8 L17.1,70.7 L17.4,71.5 L17.6,72.4 L17.8,73.2 L18.1,74.1 L18.3,74.9 L18.5,75.7 L18.8,76.6 L19.1,77.4 L19.4,78.2 L19.7,79.0 L20.1,79.8 L20.4,80.6 L20.8,81.4 L21.2,82.2 L21.6,83.0 L22.0,83.8 L22.4,84.6 L22.8,85.4 L23.2,86.2 L23.6,87.0 L24.0,87.7 L24.4,88.5 L24.8,89.3 L25.3,90.0 L25.8,90.7 L26.3,91.4 L26.8,92.1 L27.3,92.8 L27.9,93.5 L28.5,94.2 L29.1,94.8 L29.7,95.5 L30.3,96.1 L30.9,96.7 L31.6,97.3 L32.2,97.9 L32.9,98.5 L33.6,99.0 L34.2,99.6 L34.9,100.1 L35.6,100.7 L36.3,101.2 L37.0,101.8 L37.7,102.3 L38.3,102.9 L39.0,103.4 L39.7,104.0 L40.4,104.5 L41.1,105.0 L41.9,105.5 L42.6,106.0 L43.3,106.5 L44.1,106.9 L44.8,107.4 L45.6,107.8 L46.4,108.2 L47.1,108.7 L47.9,109.1 L48.7,109.5 L49.4,109.9 L50.2,110.4 L51.0,110.8 L51.7,111.3 L52.5,111.7 L53.3,112.2 L54.0,112.6 L54.8,113.0 L55.6,113.5 L56.4,113.9 L57.1,114.3 L57.9,114.6 L58.7,115.0 L59.5,115.3 L60.3,115.6 L61.1,115.9 L62.0,116.2 L62.8,116.5 L63.6,116.7 L64.4,117.0 L65.3,117.3 L66.1,117.5 L67.0,117.8 L67.8,118.0 L68.7,118.2 L69.5,118.5 L70.4,118.7 L71.2,118.9 L72.1,119.1 L73.0,119.3 L73.8,119.5 L74.7,119.7 L75.5,119.9 L76.4,120.1 L77.3,120.3 L78.1,120.4 L79.0,120.6 L79.9,120.8 L80.7,120.9 L81.6,121.1 L82.4,121.2 L83.3,121.4 L84.2,121.5 L85.0,121.7 L85.9,121.8 L86.8,121.9 L87.6,122.0 L88.5,122.2 L89.4,122.3 L90.2,122.4 L91.1,122.5 L92.0,122.6 L92.8,122.7 L93.7,122.9 L94.6,123.0 L95.5,123.1 L96.3,123.2 L97.2,123.3 L98.1,123.4 L99.0,123.5 L99.8,123.6 L100.7,123.7 L101.6,123.9 L102.4,124.0 L103.3,124.1 L104.2,124.2 L105.0,124.4 L105.9,124.5 L106.8,124.6 L107.7,124.7 L108.5,124.9 L109.4,125.0 L110.3,125.1 L111.1,125.3 L112.0,125.4 L112.9,125.6 L113.7,125.7 L114.6,125.8 L115.5,126.0 L116.3,126.1 L117.2,126.2 L118.1,126.3 L118.9,126.5 L119.8,126.6 L120.7,126.7 L121.5,126.8 L122.4,126.9 L123.3,127.0 L124.2,127.1 L125.0,127.2 L125.9,127.3 L126.8,127.4 L127.6,127.5 L128.5,127.5 L129.4,127.6 L130.3,127.7 L131.1,127.8 L132.0,127.8 L132.9,127.9 L133.8,128.0 L134.6,128.1 L135.5,128.1 L136.4,128.2 L137.3,128.3 L138.1,128.3 L139.0,128.4 L139.9,128.5 L140.8,128.5 L141.6,128.6 L142.5,128.6 L143.4,128.7 L144.3,128.8 L145.1,128.8 L146.0,128.9 L146.9,128.9 L147.8,129.0 L148.7,129.1 L149.5,129.1 L150.4,129.2 L151.3,129.2 L152.2,129.3 L153.0,129.4 L153.9,129.4 L154.8,129.5 L155.7,129.5 L156.5,129.6 L157.4,129.7 L158.3,129.7 L159.2,129.8 L160.0,129.9 L160.9,129.9 L161.8,130.0 L162.7,130.0 L163.5,130.1 L164.4,130.2 L165.3,130.2 L166.2,130.3 L167.0,130.3 L167.9,130.4 L168.8,130.4 L169.7,130.5 L170.5,130.5 L171.4,130.6 L172.3,130.6 L173.2,130.7 L174.1,130.7 L174.9,130.8 L175.8,130.8 L176.7,130.9 L177.6,130.9 L178.4,131.0 L179.3,131.0 L180.2,131.1 L181.1,131.1 L181.9,131.2 L182.8,131.2 L183.7,131.2 L184.6,131.3 L185.4,131.3 L186.3,131.3 L187.2,131.4 L188.1,131.4 L189.0,131.4 L189.8,131.4 L190.7,131.4 L191.6,131.4 L192.5,131.4 L193.3,131.4 L194.2,131.4 L195.1,131.4 L196.0,131.4 L196.9,131.4 L197.7,131.4 L198.6,131.4 L199.5,131.4 L200.4,131.4 L201.2,131.4 L202.1,131.4 L203.0,131.4 M396.0,272.0 L395.9,271.1 L395.8,270.3 L395.8,269.4 L395.7,268.5 L395.7,267.6 L395.6,266.8 L395.6,265.9 L395.5,265.0 L395.5,264.1 L395.4,263.3 L395.4,262.4 L395.3,261.5 L395.3,260.6 L395.2,259.8 L395.1,258.9 L395.1,258.0 L395.0,257.2 L395.0,256.3 L394.9,255.4 L394.8,254.5 L394.8,253.7 L394.7,252.8 L394.6,251.9 L394.4,251.1 L394.2,250.2 L394.0,249.3 L393.8,248.5 L393.6,247.6 L393.4,246.8 L393.2,245.9 L392.9,245.0 L392.7,244.2 L392.5,243.3 L392.3,242.4 L392.2,241.6 L392.0,240.7 L391.8,239.8 L391.7,239.0 L391.5,238.1 L391.4,237.2 L391.2,236.3 L391.1,235.5 L390.9,234.6 L390.8,233.7 L390.6,232.9 L390.4,232.0 L390.3,231.1 L390.1,230.3 L389.9,229.4 L389.7,228.6 L389.4,227.8 L389.2,226.9 L389.0,226.1 L388.7,225.2 L388.4,224.4 L388.2,223.6 L387.9,222.7 L387.7,221.9 L387.4,221.0 L387.2,220.2 L387.0,219.3 L386.7,218.5 L386.5,217.6 L386.3,216.8 L386.0,215.9 L385.8,215.1 L385.6,214.3 L385.3,213.4 L385.0,212.6 L384.7,211.8 L384.4,211.0 L384.0,210.2 L383.7,209.4 L383.3,208.6 L382.9,207.8 L382.5,207.0 L382.1,206.2 L381.7,205.4 L381.3,204.6 L380.9,203.8 L380.5,203.0 L380.1,202.3 L379.7,201.5 L379.3,200.7 L378.8,200.0 L378.3,199.3 L377.8,198.6 L377.3,197.9 L376.8,197.2 L376.2,196.5 L375.6,195.8 L375.0,195.2 L374.4,194.5 L373.8,193.9 L373.2,193.3 L372.5,192.7 L371.9,192.1 L371.2,191.5 L370.5,191.0 L369.9,190.4 L369.2,189.9 L368.5,189.3 L367.8,188.8 L367.1,188.2 L366.4,187.7 L365.8,187.1 L365.1,186.6 L364.4,186.0 L363.7,185.5 L363.0,185.0 L362.2,184.5 L361.5,184.0 L360.8,183.5 L360.0,183.1 L359.3,182.6 L358.5,182.2 L357.7,181.8 L357.0,181.3 L356.2,180.9 L355.4,180.5 L354.7,180.1 L353.9,179.6 L353.1,179.2 L352.4,178.7 L351.6,178.3 L350.8,177.8 L350.1,177.4 L349.3,177.0 L348.5,176.5 L347.7,176.1 L347.0,175.7 L346.2,175.4 L345.4,175.0 L344.6,174.7 L343.8,174.4 L343.0,174.1 L342.1,173.8 L341.3,173.5 L340.5,173.3 L339.7,173.0 L338.8,172.7 L338.0,172.5 L337.1,172.2 L336.3,172.0 L335.4,171.8 L334.6,171.5 L333.7,171.3 L332.9,171.1 L332.0,170.9 L331.1,170.7 L330.3,170.5 L329.4,170.3 L328.6,170.1 L327.7,169.9 L326.8,169.7 L326.0,169.6 L325.1,169.4 L324.2,169.2 L323.4,169.1 L322.5,168.9 L321.7,168.8 L320.8,168.6 L319.9,168.5 L319.1,168.3 L318.2,168.2 L317.3,168.1 L316.5,168.0 L315.6,167.8 L314.7,167.7 L313.9,167.6 L313.0,167.5 L312.1,167.4 L311.3,167.3 L310.4,167.1 L309.5,167.0 L308.6,166.9 L307.8,166.8 L306.9,166.7 L306.0,166.6 L305.1,166.5 L304.3,166.4 L303.4,166.3 L302.5,166.1 L301.7,166.0 L300.8,165.9 L299.9,165.8 L299.1,165.6 L298.2,165.5 L297.3,165.4 L296.4,165.3 L295.6,165.1 L294.7,165.0 L293.8,164.9 L293.0,164.7 L292.1,164.6 L291.2,164.4 L290.4,164.3 L289.5,164.2 L288.6,164.0 L287.8,163.9 L286.9,163.8 L286.0,163.7 L285.2,163.5 L284.3,163.4 L283.4,163.3 L282.6,163.2 L281.7,163.1 L280.8,163.0 L279.9,162.9 L279.1,162.8 L278.2,162.7 L277.3,162.6 L276.5,162.5 L275.6,162.5 L274.7,162.4 L273.8,162.3 L273.0,162.2 L272.1,162.2 L271.2,162.1 L270.3,162.0 L269.5,161.9 L268.6,161.9 L267.7,161.8 L266.8,161.7 L266.0,161.7 L265.1,161.6 L264.2,161.5 L263.3,161.5 L262.5,161.4 L261.6,161.4 L260.7,161.3 L259.8,161.2 L259.0,161.2 L258.1,161.1 L257.2,161.1 L256.3,161.0 L255.4,160.9 L254.6,160.9 L253.7,160.8 L252.8,160.8 L251.9,160.7 L251.1,160.6 L250.2,160.6 L249.3,160.5 L248.4,160.5 L247.6,160.4 L246.7,160.3 L245.8,160.3 L244.9,160.2 L244.1,160.1 L243.2,160.1 L242.3,160.0 L241.4,160.0 L240.6,159.9 L239.7,159.8 L238.8,159.8 L237.9,159.7 L237.1,159.7 L236.2,159.6 L235.3,159.6 L234.4,159.5 L233.6,159.5 L232.7,159.4 L231.8,159.4 L230.9,159.3 L230.0,159.3 L229.2,159.2 L228.3,159.2 L227.4,159.1 L226.5,159.1 L225.7,159.0 L224.8,159.0 L223.9,158.9 L223.0,158.9 L222.2,158.8 L221.3,158.8 L220.4,158.8 L219.5,158.7 L218.7,158.7 L217.8,158.7 L216.9,158.6 L216.0,158.6 L215.1,158.6 L214.3,158.6 L213.4,158.6 L212.5,158.6 L211.6,158.6 L210.8,158.6 L209.9,158.6 L209.0,158.6 L208.1,158.6 L207.2,158.6 L206.4,158.6 L205.5,158.6 L204.6,158.6 L203.7,158.6 L202.9,158.6 L202.0,158.6 L201.1,158.6" stroke-dasharray=""/></g>
<rect x="201" y="130" width="2" height="30" fill="#ff0000" shape-rendering="crispEdges"/>
</g>
<g filter="url(#th)" fill="#0000ff" font-family="Liberation Sans, sans-serif" font-weight="bold">
<text x="179.8" y="13.9" font-size="17.5">v</text>
<text x="190.2" y="13.5" font-size="18.5">'</text>
<text x="193" y="13.8" font-size="14">/</text>
<text x="196.6" y="13.4" font-size="14" font-style="italic">V<tspan dy="1" dx="0.3">(</tspan><tspan dy="-1" dx="-0.3">0</tspan><tspan dy="1" dx="-1">)</tspan></text>
<text transform="translate(409.3,148.5) scale(1.3,1)" font-size="17.5">z</text>
</g>
</svg>
</body></html>
